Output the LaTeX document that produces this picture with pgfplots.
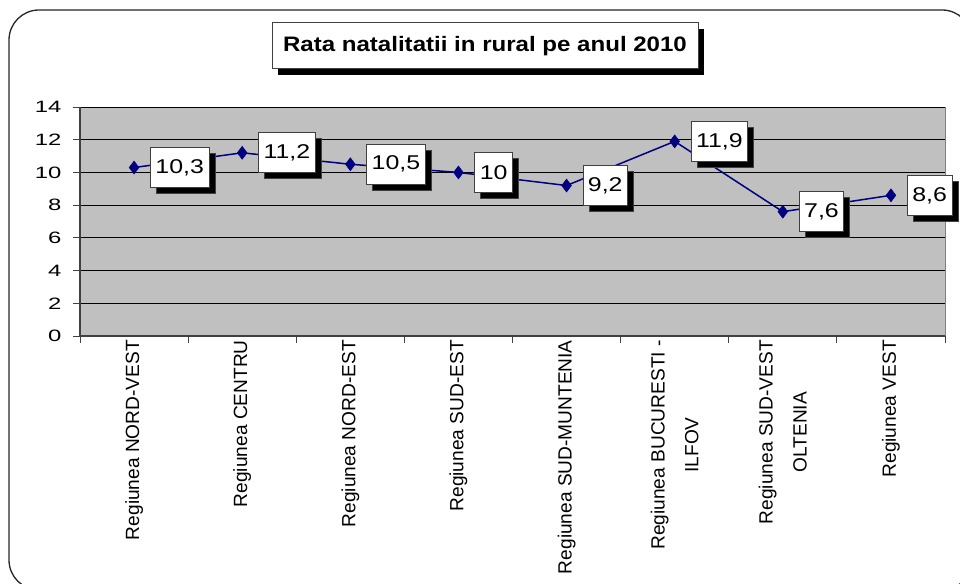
\documentclass[border=0pt]{standalone}
\usepackage{pgfplots}
\pgfplotsset{compat=1.18}
\usepackage{pgfplotstable}
\usepackage{fontspec}
\setmainfont{Liberation Sans}
\usetikzlibrary{shadows}
\definecolor{plotgray}{HTML}{C0C0C0}
\definecolor{navyblue}{HTML}{000080}
\definecolor{boxline}{HTML}{404040}

\pgfplotstableread{
x y lab
0 10.3 10,3
1 11.2 11,2
2 10.5 10,5
3 10.0 10
4 9.2 9,2
5 11.9 11,9
6 7.6 7,6
7 8.6 8,6
}\datatable

\begin{document}
\begin{tikzpicture}[x=1bp,y=1bp]
\draw[line width=1.3bp, draw=black!85, fill=white, rounded corners=30bp,
  drop shadow={shadow xshift=4bp, shadow yshift=-4bp, fill=black, opacity=1}]
  (9,-10) rectangle (972,-590);
\begin{axis}[
  at={(80bp,-336bp)}, anchor=south west,
  scale only axis, width=865bp, height=229bp,
  clip=false,
  xmin=-0.5, xmax=7.5, ymin=0, ymax=14,
  axis background/.style={fill=plotgray, draw=gray, line width=1bp},
  axis x line*=bottom, axis y line*=left,
  axis line style={-, draw=boxline, line width=1.5bp},
  tick align=outside,
  major tick length=7bp,
  tick style={draw=boxline, line width=1bp},
  ytick={0,2,...,14},
  /pgf/number format/assume math mode=true,
  yticklabel={\scalebox{1.45}[1]{\pgfmathprintnumber{\tick}}\kern8bp},
  yticklabel style={font=\fontsize{16.5}{18}\selectfont},
  xtick={-0.5,0.5,...,7.5}, xticklabels={},
  extra x ticks={0,...,7},
  extra x tick labels={{Regiunea NORD-VEST},{Regiunea CENTRU},{Regiunea NORD-EST},{Regiunea SUD-EST},{Regiunea SUD-MUNTENIA},{Regiunea BUCURESTI -\\ILFOV},{Regiunea SUD-VEST\\OLTENIA},{Regiunea VEST}},
  extra x tick style={major tick length=0pt, xticklabel shift=3bp,
    xticklabel style={rotate=90, anchor=east, align=center, inner sep=1bp,
      font=\fontsize{19.2}{34}\selectfont}},
  ymajorgrids,
  major grid style={draw=black, line width=0.8bp},
  nodes near coords={\scalebox{1.25}[1]{\pgfplotspointmeta}},
  point meta=explicit symbolic,
  every node near coord/.append style={anchor=west, xshift=16bp, fill=white,
    draw=boxline, text=black, line width=0.8bp, font=\fontsize{20}{22}\selectfont,
    inner xsep=5bp, minimum height=40bp,
    drop shadow={shadow xshift=6bp, shadow yshift=-6bp, fill=black, opacity=1}},
]
\addplot[color=navyblue, line width=1.5bp, mark=diamond*,
  mark size=6.5bp, mark options={fill=navyblue, draw=navyblue, line width=0.5bp}]
  table[x=x, y=y, meta=lab] {\datatable};
\end{axis}
\node[draw=boxline, line width=1bp, fill=white,
  drop shadow={shadow xshift=6bp, shadow yshift=-6bp, fill=black, opacity=1},
  font=\bfseries\fontsize{21}{24}\selectfont,
  minimum width=426bp, minimum height=46bp, inner sep=0pt]
  at (485,-46) {\scalebox{1.15}[1]{Rata natalitatii in rural pe anul 2010}};
\pgfresetboundingbox
\useasboundingbox (0,0) rectangle (960,-584);
\end{tikzpicture}
\end{document}
